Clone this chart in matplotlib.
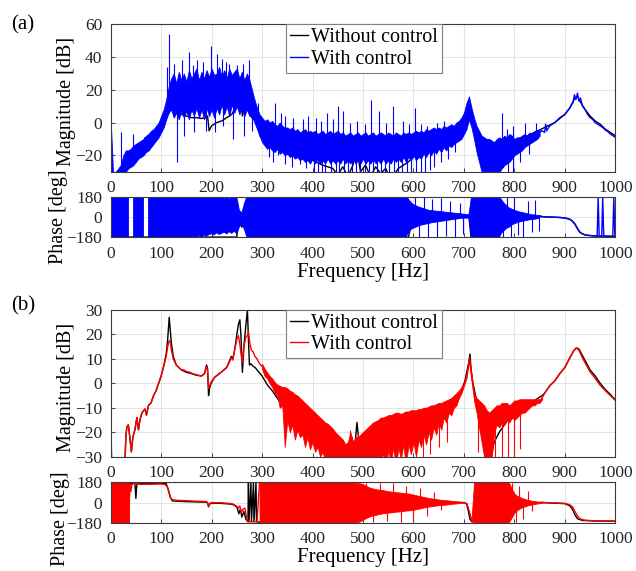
import numpy as np
import matplotlib
matplotlib.use('Agg')
import matplotlib.pyplot as plt

plt.rcParams['font.family'] = ['Liberation Serif', 'DejaVu Serif']
nan = np.nan

#%% panel (a): blue trace is very noisy, kept as upper/lower envelope every 5 Hz
fa_band = np.arange(0, 851, 5)
a_blue_hi = [
    2, -33, -30, -28, -26, -20, -17, -17, -16, -14,
    -13, -12, -11, -10, -8, -7, -5, -4, -2, 0,
    4, 8, 14, 22, 27, 30, 24, 31, 26, 30,
    25, 32, 27, 30, 33, 26, 31, 27, 32, 28,
    33, 29, 30, 34, 28, 32, 27, 33, 29, 31,
    33, 27, 31, 26, 30, 26, 20, 14, 9, 5,
    3, 1, 2, 0, 1, -1, -2, 0, -2, -3,
    -3, -4, -3, -5, -4, -6, -5, -4, -6, -5,
    -6, -5, -7, -6, -5, -7, -6, -5, -7, -6,
    -5, -7, -6, -8, -7, -6, -8, -7, -6, -8,
    -7, -6, -8, -7, -6, -8, -7, -6, -7, -8,
    -6, -7, -8, -6, -7, -8, -6, -7, -6, -7,
    -6, -5, -6, -5, -6, -4, -5, -4, -3, -4,
    -3, -4, -2, -3, -2, -1, -2, 0, 1, 3,
    6, 12, 16, 9, 3, -2, -5, -8, -9, -10,
    -10, -11, -12, -10, -9, -10, -8, -9, -7, -8,
    -10, -9, -9, -8, -7, -8, -6, -7, -5, -5,
    -4]
a_blue_lo = [
    -40, -40, -40, -40, -40, -34, -30, -28, -27, -26,
    -24, -22, -21, -20, -18, -17, -15, -13, -11, -9,
    -6, -3, 2, 6, 8, 3, 6, 2, 7, 3,
    7, 2, 8, 4, 9, 3, 8, 2, 9, 4,
    8, 3, 9, 5, 11, 5, 10, 4, 11, 6,
    10, 5, 9, 4, 8, 4, 4, 0, -4, -8,
    -12, -14, -16, -15, -17, -18, -16, -19, -18, -20,
    -19, -21, -20, -22, -21, -23, -22, -24, -23, -25,
    -22, -25, -22, -25, -23, -25, -22, -25, -23, -25,
    -23, -25, -22, -25, -23, -25, -22, -25, -23, -25,
    -22, -25, -23, -25, -22, -25, -23, -25, -22, -25,
    -23, -25, -22, -24, -22, -24, -21, -24, -21, -23,
    -20, -23, -21, -22, -19, -21, -18, -20, -17, -19,
    -16, -18, -15, -17, -14, -15, -13, -12, -11, -10,
    -7, -4, 2, -3, -10, -18, -24, -30, -36, -36,
    -36, -36, -34, -33, -30, -28, -26, -25, -24, -22,
    -20, -19, -18, -17, -15, -14, -13, -12, -11, -10,
    -8]
# isolated spikes sticking out of the band (frequency, tip value)
a_spike_f = [20, 45, 66, 112, 116, 126, 142, 156, 164, 172, 183, 198, 210, 220, 228,
             235, 251, 262, 275, 291, 325, 338, 345, 362, 381, 392, 406, 417, 429, 440,
             451, 460, 474, 489, 503, 515, 532, 546, 560, 580, 592, 604, 615, 626, 646,
             660, 775, 785, 797, 822, 843,
             131, 145, 166, 188, 207, 222, 243, 265, 280, 293, 313, 322, 332, 345, 360,
             375, 388, 402, 410, 418, 425, 437, 446, 452, 463, 470, 478, 486, 495, 503,
             511, 520, 527, 536, 544, 552, 561, 570, 578, 587, 596, 605, 614, 622, 632,
             641, 655, 668, 682, 762, 771, 787, 798, 812, 828]
a_spike_v = [-6, -7, -9, 34, 54, 36, 38, 43, 35, 38, 37, 47, 42, 39, 37,
             36, 35, 36, 38, 12, 12, 6, 4, 3, 2, 4, 3, 1, 6, 2,
             10, 7, 0, 1, -1, 14, 7, 0, 10, 1, -1, 9, -1, -2, 0,
             1, 6, -4, -2, 0, 0,
             -24, -8, -6, -5, -6, -2, -10, -8, -5, -8, -21, -24, -20, -25, -27,
             -25, -28, -30, -30, -31, -32, -31, -33, -31, -33, -31, -33, -31, -33, -31,
             -33, -31, -33, -31, -33, -31, -33, -31, -33, -31, -33, -31, -32, -30, -29,
             -27, -24, -22, -18, -33, -32, -33, -32, -24, -19]
fa_blue_tail = [850, 855, 860, 862, 864, 870, 875, 880, 885, 890, 895, 900, 905, 910,
                913, 916, 919, 922, 925, 928, 931, 935, 940, 945, 950, 955, 960, 965,
                970, 975, 980, 985, 990, 995, 1000]
a_blue_tail = [-6, -5, -6, -1, -5, -2, -1, 0, 1.5, 3, 4, 5, 7, 9,
               11, 12, 17, 14, 18, 13, 15, 10, 8, 5, 3, 2, 0, -1,
               -2, -3, -4.5, -5.5, -7, -8, -9]

fa_black = [0, 3, 20, 25, 30, 40, 50, 60, 70, 80, 90, 100, 110, 116, 120, 130,
            140, 150, 160, 170, 180, 188, 192, 195, 200, 210, 220, 230, 240, 245,
            250, 255, 258, 261, 264, 268, 272, 276, 280, 290, 300, 320, 340, 360,
            380, 400, 420, 440, 450, 460, 470, 480, 488, 495, 505, 515, 525, 535,
            545, 555, 570, 590, 610, 630, 650, 670, 690, 700, 706, 710, 714, 720,
            730, 740, 746, 752, 760, 770, 780, 790, 800, 820, 840, 860, 880, 900,
            910, 920, 925, 930, 940, 950, 960, 970, 980, 990, 1000]
a_black_mag = [1, -35, -35, -25, -20, -20, -16, -14, -12, -9, -5, 0, 8, 18, 14, 8,
               5, 4, 3, 3, 2.5, 3, 4, -5, -2, 0, 1, 3, 5, 8,
               10, 14, 18, 4, 8, 9, 8, 5, 3, 0, -3, -8, -13, -17,
               -20, -23, -26, -28, -32, -27, -33, -26, -16, -30, -26, -33, -27, -31,
               -28, -35, -28, -24, -18, -15, -12, -8, -4, 0, 6, 12, 6, -3,
               -12, -25, -35, -33, -26, -20, -16, -13, -12, -9, -6, -3, 0, 5,
               9, 15, 16, 13, 8, 4, 1, -1, -4, -6, -8]

# phase (a), blue envelope every 5 Hz (nan = thin white gap)
a_ph_hi = [
    180, 180, 180, 180, 180, 180, 180, 180, nan, 180,
    180, 180, 180, 180, nan, 180, 180, 180, 180, 180,
    180, 180, 180, 180, 180, 180, 180, 180, 180, 180,
    180, 176, 180, 172, 180, 175, 170, 180, 168, 178,
    176, 170, 178, 168, 175, 165, 172, 160, 170, 166,
    175, 60, 35, 120, 180, 180, 180, 180, 180, 180,
    180, 180, 180, 180, 180, 180, 180, 180, 180, 180,
    180, 180, 180, 180, 180, 180, 180, 180, 180, 180,
    180, 180, 180, 180, 180, 180, 180, 180, 180, 180,
    180, 180, 180, 180, 180, 180, 180, 180, 180, 180,
    180, 180, 180, 180, 180, 180, 180, 180, 180, 180,
    180, 180, 180, 180, 180, 180, 180, 180, 160, 130,
    110, 100, 90, 82, 75, 68, 60, 58, 55, 52,
    50, 48, 45, 42, 40, 38, 35, 32, 30, 28,
    25, 22, 20, 180, 180, 180, 180, 180, 180, 180,
    180, 180, 180, 180, 180, 150, 120, 100, 80, 70,
    60, 52, 45, 40, 35, 30, 25, 20, 18, 15,
    12]
a_ph_lo = [
    -180, -180, -180, -180, -180, -180, -180, -180, nan, -180,
    -180, -180, -180, -180, nan, -180, -180, -180, -180, -180,
    -180, -180, -180, -180, -180, -180, -180, -180, -180, -180,
    -180, -175, -180, -170, -180, -165, -180, -160, -170, -155,
    -150, -160, -140, -155, -145, -135, -150, -130, -145, -125,
    -150, -90, -60, -110, -180, -180, -180, -180, -180, -180,
    -180, -180, -180, -180, -180, -180, -180, -180, -180, -180,
    -180, -180, -180, -180, -180, -180, -180, -180, -180, -180,
    -180, -180, -180, -180, -180, -180, -180, -180, -180, -180,
    -180, -180, -180, -180, -180, -180, -180, -180, -180, -180,
    -180, -180, -180, -180, -180, -180, -180, -180, -180, -180,
    -180, -180, -180, -180, -180, -180, -180, -180, -140, -110,
    -100, -90, -80, -72, -68, -62, -58, -52, -48, -45,
    -42, -38, -35, -30, -28, -25, -20, -18, -15, -12,
    -10, -10, -10, -180, -180, -180, -180, -180, -180, -180,
    -180, -180, -180, -180, -180, -140, -120, -100, -90, -70,
    -60, -52, -45, -38, -35, -30, -25, -22, -20, -16,
    -12]
a_ph_spike_f = [603, 611, 620, 628, 637, 646, 655, 664, 673, 683, 692, 699,
                778, 786, 793, 800, 808, 817, 826, 834, 841, 848]
a_ph_spike_v = [178, -178, 178, -178, 160, -178, 170, -170, 140, -178, 120, -150,
                -178, 178, -178, 178, -160, -178, 140, -130, 150, -120]
fa_ph_tail = [850, 855, 860, 870, 880, 890, 900, 905, 910, 915, 920, 925, 930, 935,
              940, 950, 960, 964, 966, 968, 973, 975, 977, 985, 995, 997, 999, 1000]
a_ph_tail = [12, 5, 2, 0, -2, -4, -8, -12, -20, -35, -60, -100, -135, -150,
             -158, -165, -168, -169, 178, -169, -169, 178, -169, -170, -170, 178, -170, -170]
fa_black_ph = [0, 250, 253, 256, 260, 264, 268, 271, 272, 273, 274, 590, 600, 710,
               714, 770, 780, 850, 870, 890, 900, 910, 915, 920, 925, 930, 940, 960, 1000]
a_black_ph = [-178, -178, -20, -30, -90, -60, -100, -170, 178, 135, -178, -178, 10, 5,
              -178, -178, 0, 2, 0, -4, -9, -22, -38, -65, -105, -138, -160, -168, -172]

#%% panel (b)
fb_red_lo = [0, 1, 2, 28, 30, 32, 35, 38, 41, 44, 48, 52, 55, 58, 62, 66, 68, 71,
             75, 80, 85, 90, 95, 100, 105, 110, 113, 116, 118, 120, 124, 130, 140,
             145, 150, 155, 160, 170, 180, 186, 190, 192, 194, 196, 199, 206, 220,
             230, 236, 239, 242, 246, 250, 253, 256, 259, 261, 264, 268, 271, 273,
             276, 279, 282, 286, 290, 295, 300]
b_red_lo = [-14, -25, -35, -35, -22, -18, -17, -22, -28, -22, -19, -14, -19, -15,
            -12, -11, -10.5, -13, -9, -8, -5, -3, 0, 3, 7, 11, 15, 17.5, 17, 14, 10,
            7.5, 5.5, 5.5, 4.8, 4.7, 4.2, 3.5, 3, 4, 6.8, 5.5, -2, -1, 0.5, 2.5, 4.7,
            6.5, 9, 10.5, 9.5, 14, 18, 19.5, 16, 11, 8.5, 15, 19, 19.5, 21, 16, 13.5,
            13, 11, 10, 8, 7]
fb_band = np.arange(300, 856, 5)
b_red_hi_env = [
    8, 6, 4.5, 3, 2, 0.5, -0.5, -1, -1.5, -1.5,
    -2, -3, -3.5, -4.5, -5, -6, -7, -8, -9, -10,
    -11, -12, -13, -14, -15, -16, -16.5, -17.5, -18.5, -20,
    -21, -22, -23, -25, -24, -20, -24, -22, -22, -21,
    -20, -19, -18, -17, -16, -15.5, -15, -14, -14, -13.5,
    -13, -13, -12.5, -12, -12, -12.5, -12, -11.5, -11.5, -11,
    -11, -11, -10.5, -10.5, -10, -10, -9.5, -9, -9, -8.5,
    -8, -8, -7.5, -7, -6.5, -6, -5, -4, -3, -1.5,
    0, 4, 11, 4, -4, -6, -7, -8, -9, -11,
    -12, -11, -10, -9, -9, -8, -8, -8, -9, -8,
    -7, -7, -6.5, -6.5, -6.5, -6.5, -6.5, -6.5, -6.5, -6.5,
    -6.5, -5.5]
b_red_lo_env = [
    6, 3, 2, 0, -1.5, -4, -5, -10, -9, -26,
    -15, -20, -17, -23, -19, -22, -21, -26, -22, -27,
    -24, -28, -26, -30, -28, -32, -30, -33, -32, -35,
    -34, -35, -35, -36, -36, -33, -36, -35, -34, -35,
    -34, -36, -32, -35, -31, -36, -29, -34, -28, -36,
    -27, -33, -26, -35, -26, -31, -25, -34, -25, -29,
    -24, -30, -23, -26, -21, -25, -20, -23, -18, -21,
    -16, -19, -14, -16, -12, -13, -10, -9, -6, -4,
    -1, 2, 9, 1, -7, -12, -18, -24, -30, -36,
    -36, -30, -20, -17, -18, -16, -17, -15, -16, -14,
    -15, -14, -13, -12, -12, -11, -10, -9, -9, -8,
    -8, -6.5]
b_spike_f = [474, 490, 618, 633, 650, 667, 728, 762, 776, 787, 800, 812]
b_spike_v = [-19, -20, -31, -29, -26, -24, -28, -30, -31, -34, -34, -27]
fb_red_tail = [855, 860, 870, 880, 890, 900, 910, 918, 923, 928, 937, 950, 960,
               970, 980, 990, 1000]
b_red_tail = [-6, -4, -1, 1, 4, 6.5, 10.5, 13.5, 14.5, 13.5, 9.5, 4.7, 2,
              -0.8, -3, -5, -7]

fb_black = [0, 1, 2, 28, 30, 32, 35, 38, 41, 44, 48, 52, 55, 58, 62, 66, 68, 71, 75,
            80, 85, 90, 95, 100, 105, 110, 113, 116, 118, 120, 124, 130, 140, 150,
            160, 170, 180, 186, 190, 192, 194, 196, 199, 206, 220, 230, 236, 239, 242,
            246, 250, 253, 256, 258, 261, 264, 268, 271, 273, 275, 278, 282, 286, 290,
            300, 311, 320, 330, 340, 360, 380, 400, 420, 440, 460, 470, 478, 483, 488,
            492, 497, 510, 525, 540, 545, 560, 580, 600, 620, 640, 660, 680, 695, 702,
            706, 709, 712, 714, 717, 722, 730, 738, 744, 748, 752, 760, 770, 780, 790,
            800, 820, 840, 855, 860, 870, 880, 890, 900, 910, 918, 923, 928, 937, 950,
            960, 970, 980, 990, 1000]
b_black_mag = [-8, -20, -35, -35, -22, -18, -17, -22, -28, -22, -19, -14, -19, -15, -12,
               -11, -10.5, -13, -9, -8, -5, -3, 0, 3, 7, 12, 18, 27, 22, 17, 11, 7.5,
               5.5, 4.5, 4, 3.3, 3, 4, 7.5, 6, -5, -2, 0, 2.5, 4.7, 6.5, 9.5, 11, 10,
               14, 20, 24, 26, 20, 4.5, 15, 24, 30, 18, 7.5, 8, 7, 6.5, 5.5,
               3, -0.8, -3, -6, -9, -14, -18, -21, -24, -27, -32, -26, -22, -28, -16,
               -24, -32, -36, -30, -20, -28, -25, -22, -20, -16, -13, -10, -7, -3, 1,
               5, 8, 12, 6, 1, -4, -12, -23, -33, -36, -32, -24, -20, -17, -14,
               -11, -9, -7, -5, -4, -1, 1, 4, 6.5, 10.5, 13.5, 14.5, 14, 10.5, 5.5,
               3, 0, -2.5, -4.5, -6.8]

# phase (b)
fb_ph_start = [0.5, 36]
b_ph_start_hi = [180, 180]
b_ph_start_lo = [-180, -180]
fb_red_ph_lo = [36, 38, 40, 42, 45, 60, 80, 100, 108, 112, 116, 119, 122, 130, 150, 170,
                190, 192, 194, 196, 200, 220, 240, 245, 250, 253, 256, 259, 262, 266,
                269, 272, 280, 290, 295]
b_red_ph_lo = [-170, 165, 100, 160, 168, 162, 163, 165, 160, 140, 80, 40, 25, 20, 16, 12,
               8, 0, -40, -10, 0, -3, -10, -20, -35, -50, -30, -90, -60, -50, -120,
               -170, -172, -170, 180]
fb_ph_band = np.arange(295, 856, 5)
b_ph_hi = [
    180, 180, 180, 180, 180, 180, 180, 180, 180, 180,
    180, 180, 180, 180, 180, 180, 180, 180, 180, 180,
    180, 180, 180, 180, 180, 180, 180, 180, 180, 180,
    180, 180, 180, 180, 180, 180, 180, 180, 178, 175,
    170, 165, 150, 140, 130, 125, 120, 115, 112, 110,
    105, 100, 98, 95, 92, 90, 88, 85, 82, 80,
    75, 70, 65, 60, 55, 50, 45, 40, 37, 34,
    30, 27, 24, 22, 20, 18, 15, 12, 10, 8,
    5, 0, -5, -80, -160, 180, 180, 180, 180, 180,
    180, 180, 180, 180, 180, 180, 180, 180, 180, 170,
    120, 80, 60, 50, 40, 32, 25, 20, 15, 12,
    8, 6, 4]
b_ph_lo = [
    -180, -180, -180, -180, -180, -180, -180, -180, -180, -180,
    -180, -180, -180, -180, -180, -180, -180, -180, -180, -180,
    -180, -180, -180, -180, -180, -180, -180, -180, -180, -180,
    -180, -180, -180, -180, -180, -180, -180, -180, -178, -175,
    -165, -155, -140, -130, -120, -115, -110, -105, -100, -95,
    -92, -90, -88, -85, -82, -80, -78, -75, -72, -70,
    -68, -65, -60, -55, -50, -45, -40, -36, -33, -30,
    -27, -24, -22, -20, -18, -15, -12, -10, -8, -6,
    -3, 0, -5, -80, -160, -180, -180, -180, -180, -180,
    -180, -180, -180, -180, -180, -180, -180, -180, -180, -170,
    -130, -90, -70, -55, -42, -35, -28, -22, -17, -13,
    -9, -6, -4]
b_ph_spike_f = [505, 520, 533, 548, 560, 575, 586, 600, 612, 626, 640, 655,
                795, 803, 810, 818, 826, 835]
b_ph_spike_v = [178, -178, 178, -165, 175, -178, 150, -160, 130, -120, 95, -70,
                178, -178, 150, -150, 100, -80]
fb_red_ph_tail = [855, 860, 880, 900, 910, 915, 920, 925, 930, 940, 960, 1000]
b_red_ph_tail = [4, 0, -3, -8, -20, -38, -80, -120, -145, -158, -163, -165]

fb_black_ph = [0, 5, 10, 15, 20, 25, 30, 35, 38, 45, 48, 50, 52, 80, 100, 110, 114,
               118, 122, 130, 150, 170, 190, 192, 194, 196, 200, 220, 240, 245, 250,
               254, 257, 260, 264, 268, 272, 273, 274, 278, 279, 283, 284, 288, 289,
               300, 478, 479, 490, 500, 600, 700, 705, 709, 712, 716,
               745, 800, 850, 900, 910, 915, 920, 925, 935, 960, 1000]
b_black_ph = [178, -178, 178, -178, 178, -178, 178, -178, 172, 172, 172, 37, 172, 170,
              172, 168, 120, 50, 15, 12, 8, 5, 3, -5, -35, -15, -5, -8, -15, -25, -40,
              -100, -60, -130, -80, -150, -172, 178, -172, 178, -172, 178, -172, 178, -172,
              -178, -178, 178, -170, 20, 5, 0, -10, -80, -150, -172,
              -172, 0, 0, -10, -30, -60, -110, -145, -160, -165, -166]

#%% figure
fig = plt.figure(figsize=(6.36, 5.71), dpi=100)
ax_am = fig.add_axes([0.174, 0.6993, 0.7935, 0.2581])
ax_ap = fig.add_axes([0.174, 0.5844, 0.7935, 0.0711])
ax_bm = fig.add_axes([0.174, 0.2002, 0.7935, 0.2569])
ax_bp = fig.add_axes([0.174, 0.0846, 0.7935, 0.0707])


def style(ax, ylim, yticks):
    ax.set_xlim(0, 1000)
    ax.set_ylim(*ylim)
    ax.set_xticks(range(0, 1001, 100))
    ax.set_yticks(yticks)
    ax.grid(True, color='#e4e4e4', lw=0.8)
    ax.set_axisbelow(True)
    for s in ax.spines.values():
        s.set_color('#3a3a3a')
        s.set_linewidth(0.8)
        s.set_zorder(5)
    ax.tick_params(direction='in', length=3, width=0.6, labelsize=12.5, pad=6,
                   colors='#262626')


def noisy(ax, f, lo, hi, sf, sv, color):
    lo = np.array(lo, dtype=float)
    hi = np.array(hi, dtype=float)
    ax.fill_between(f, lo, hi, color=color, lw=0.6, zorder=2)
    mid = np.interp(sf, f, np.nan_to_num((lo + hi) / 2))
    ax.vlines(sf, mid, sv, color=color, lw=0.8, zorder=2)


lw = 1.0
ax_am.plot(fa_black, a_black_mag, color='black', lw=lw, zorder=1, label='Without control')
noisy(ax_am, fa_band, a_blue_lo, a_blue_hi, a_spike_f, a_spike_v, 'blue')
ax_am.plot(fa_blue_tail, a_blue_tail, color='blue', lw=lw, zorder=2, label='With control')
style(ax_am, (-30, 60), [-20, 0, 20, 40, 60])
ax_am.set_ylabel('Magnitude [dB]', fontsize=14.5)

ax_ap.plot(fa_black_ph, a_black_ph, color='black', lw=lw, zorder=1)
noisy(ax_ap, fa_band, a_ph_lo, a_ph_hi, a_ph_spike_f, a_ph_spike_v, 'blue')
ax_ap.plot(fa_ph_tail, a_ph_tail, color='blue', lw=lw, zorder=2)
style(ax_ap, (-180, 180), [-180, 0, 180])
ax_ap.set_ylabel('Phase [deg]', fontsize=14.5)
ax_ap.set_xlabel('Frequency [Hz]', fontsize=15, labelpad=1)

ax_bm.plot(fb_black, b_black_mag, color='black', lw=lw, zorder=1, label='Without control')
ax_bm.plot(fb_red_lo, b_red_lo, color='red', lw=lw, zorder=2, label='With control')
noisy(ax_bm, fb_band, b_red_lo_env, b_red_hi_env, b_spike_f, b_spike_v, 'red')
ax_bm.plot(fb_red_tail, b_red_tail, color='red', lw=lw, zorder=2)
style(ax_bm, (-30, 30), [-30, -20, -10, 0, 10, 20, 30])
ax_bm.set_ylabel('Magnitude [dB]', fontsize=14.5)

ax_bp.plot(fb_black_ph, b_black_ph, color='black', lw=lw, zorder=1)
ax_bp.fill_between(fb_ph_start, b_ph_start_lo, b_ph_start_hi, color='red', lw=0.6, zorder=2)
ax_bp.plot(fb_red_ph_lo, b_red_ph_lo, color='red', lw=lw, zorder=2)
noisy(ax_bp, fb_ph_band, b_ph_lo, b_ph_hi, b_ph_spike_f, b_ph_spike_v, 'red')
ax_bp.plot(fb_red_ph_tail, b_red_ph_tail, color='red', lw=lw, zorder=2)
style(ax_bp, (-180, 180), [-180, 0, 180])
ax_bp.set_ylabel('Phase [deg]', fontsize=14.5)
ax_bp.set_xlabel('Frequency [Hz]', fontsize=15, labelpad=1)

ax_am.yaxis.set_label_coords(-0.069, 0.48)
ax_ap.yaxis.set_label_coords(-0.085, 0.5)
ax_bm.yaxis.set_label_coords(-0.069, 0.475)
ax_bp.yaxis.set_label_coords(-0.081, 0.1)

for ax in (ax_am, ax_bm):
    leg = ax.legend(loc='upper left', bbox_to_anchor=(0.347, 1.0), fontsize=14.5,
                    frameon=True, fancybox=False, edgecolor='#7f7f7f', framealpha=1,
                    handlelength=0.9, handletextpad=0.15, labelspacing=0.1,
                    borderpad=0.2, borderaxespad=0)
    leg.get_frame().set_linewidth(0.8)
    leg.set_zorder(10)

fig.text(0.018, 0.956, '(a)', fontsize=15, va='center')
fig.text(0.018, 0.464, '(b)', fontsize=15, va='center')

fig.savefig('out.png', dpi=100)
